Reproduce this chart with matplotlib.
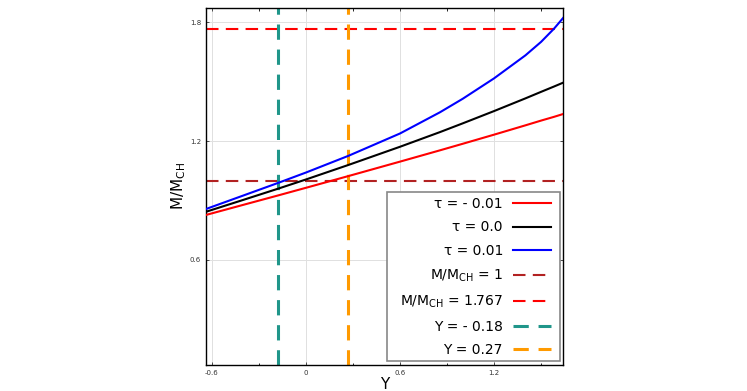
import matplotlib
matplotlib.use("Agg")
import matplotlib.pyplot as plt
from matplotlib.ticker import MultipleLocator
from matplotlib.patches import Rectangle

# Data
Y_vals = [-0.638, -0.4, -0.18, 0.0, 0.27, 0.6, 0.855, 1.0, 1.2, 1.4, 1.5, 1.583, 1.64]
m_tau_neg = [0.827, 0.878, 0.925, 0.964, 1.023, 1.096, 1.153, 1.186, 1.232, 1.279, 1.303, 1.322, 1.336]
m_tau_zero = [0.843, 0.903, 0.959, 1.006, 1.079, 1.171, 1.245, 1.289, 1.351, 1.415, 1.448, 1.475, 1.494]
m_tau_pos = [0.857, 0.925, 0.988, 1.041, 1.125, 1.238, 1.345, 1.413, 1.516, 1.632, 1.700, 1.767, 1.820]

h_levels = [1.0, 1.767]
v_levels = [-0.18, 0.27]

labels = ["τ = - 0.01", "τ = 0.0", "τ = 0.01", "M/M$_{\\mathrm{CH}}$ = 1",
          "M/M$_{\\mathrm{CH}}$ = 1.767", "Y = - 0.18", "Y = 0.27"]
x_ticks = [-0.6, 0.0, 0.6, 1.2]
x_ticklabels = ["-0.6", "0", "0.6", "1.2"]
y_ticks = [0.6, 1.2, 1.8]
y_ticklabels = ["0.6", "1.2", "1.8"]

plt.rcParams['font.family'] = ['DejaVu Sans']
plt.rcParams['mathtext.fontset'] = 'dejavusans'

fig = plt.figure(figsize=(7.47, 3.91), dpi=100)
ax = fig.add_axes([206/747, 26/391, 357/747, 357/391])

ax.plot(Y_vals, m_tau_neg, color="#ff0000", lw=1.5, label=labels[0], zorder=3)
ax.plot(Y_vals, m_tau_zero, color="#000000", lw=1.5, label=labels[1], zorder=3)
ax.plot(Y_vals, m_tau_pos, color="#0000ff", lw=1.5, label=labels[2], zorder=3)
ax.axhline(h_levels[0], color="#b22222", lw=1.5, dashes=(6, 3.5), label=labels[3], zorder=2)
ax.axhline(h_levels[1], color="#ff0000", lw=1.5, dashes=(6, 3.5), label=labels[4], zorder=2)
ax.axvline(v_levels[0], color="#20968a", lw=2.2, dashes=(5, 3.2), label=labels[5], zorder=2)
ax.axvline(v_levels[1], color="#ff9a00", lw=2.2, dashes=(5, 3.2), label=labels[6], zorder=2)

ax.set_xlim(-0.638, 1.64)
ax.set_ylim(0.07, 1.871)
ax.set_xticks(x_ticks)
ax.set_xticklabels(x_ticklabels)
ax.set_yticks(y_ticks)
ax.set_yticklabels(y_ticklabels)
ax.xaxis.set_minor_locator(MultipleLocator(0.3))
ax.tick_params(axis="both", which="major", direction="in", length=2.5, width=0.6,
               labelsize=5, top=True, right=True, colors="#333333", labelcolor="#333333")
ax.tick_params(axis="x", which="minor", direction="in", length=1.8, width=0.6,
               top=True, bottom=True)
ax.grid(True, which="major", color="#e0e0e0", lw=0.7, zorder=0)
for sp in ax.spines.values():
    sp.set_linewidth(1.0)
    sp.set_color("black")

ax.set_xlabel("Y", fontsize=11, labelpad=1)
ax.set_ylabel("M/M$_{\\mathrm{CH}}$", fontsize=11, labelpad=1)

# legend frame (Julia-style fixed box)
frame = Rectangle((0.507, 0.0112), 0.4846, 0.4734, transform=ax.transAxes,
                  facecolor="white", edgecolor="#888888", lw=1.2, zorder=5)
ax.add_patch(frame)

leg = ax.legend(loc="lower right", fontsize=10, markerfirst=False, frameon=False,
                handlelength=2.75, handletextpad=0.7, labelspacing=0.69, borderpad=0.0,
                bbox_to_anchor=(0.966, 0.022), borderaxespad=0.0)
leg.set_zorder(6)

fig.savefig("out.png", dpi=100)
